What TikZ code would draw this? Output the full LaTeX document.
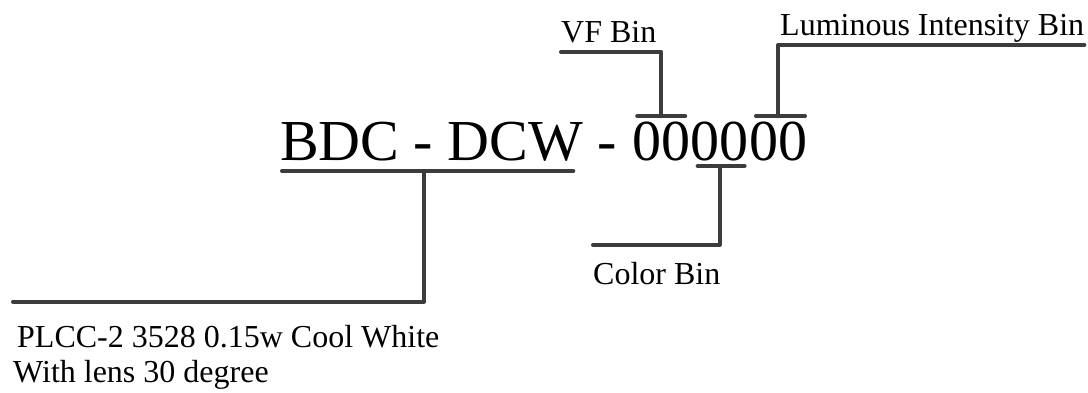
\documentclass[tikz,border=0pt]{standalone}
\usepackage{fontspec}
\setmainfont{Liberation Serif}
\usepackage{xcolor}
\usetikzlibrary{positioning,calc}
\definecolor{leadgray}{HTML}{3C3C3C}

\begin{document}
\begin{tikzpicture}[x=1pt,y=1pt,
    code/.style={font=\fontsize{58}{58}\selectfont,inner sep=0,anchor=base west},
    tag/.style={font=\fontsize{32}{32}\selectfont,inner sep=0,anchor=base west},
    lead/.style={draw=leadgray,line width=4pt,line cap=round,line join=round}]
      \useasboundingbox (0,0) rectangle (1088,392);
      % part number
      \node[code] (dcw) at (280,232) {BDC - DCW};
      \node[code] (sep) at ([xshift=14.5]dcw.base east) {-};
      \node[code] (d12) at ([xshift=14.5]sep.base east) {00};
      \node[code] (d34) at (d12.base east) {00};
      \node[code] (d56) at (d34.base east) {00};
      % labels
      \node[tag] (vf) at (561,349) {VF Bin};
      \node[tag] (lum) at (780,356) {Luminous Intensity Bin};
      \node[tag] (col) at (593,108) {Color Bin};
      \node[tag] (pkg) at (17,45) {PLCC-2 3528 0.15w Cool White};
      \node[tag] (lens) at ([yshift=-35,xshift=-4]pkg.base west) {With lens 30 degree};
      % bars
      \coordinate (vfbar) at ([yshift=5]d12.north);
      \coordinate (colbar) at ([yshift=-6]d34.base);
      \coordinate (lumbar) at ([yshift=5]d56.north);
      \coordinate (dcwbar) at ([xshift=144,yshift=-11]dcw.base west);
      \draw[lead] ([xshift=-24]vfbar) -- ([xshift=24]vfbar);
      \draw[lead] ([xshift=-22]colbar) -- ([xshift=25]colbar);
      \draw[lead] ([xshift=-22]lumbar) -- ([xshift=27]lumbar);
      \draw[lead] ([xshift=2,yshift=-11]dcw.base west) -- ([xshift=-10,yshift=-11]dcw.base east);
      % leaders
      \draw[lead] (vfbar) |- ([yshift=-9]vf.base west);
      \draw[lead] (lumbar) |- ([yshift=-9]lum.base east);
      \draw[lead] (colbar) |- ([yshift=17]col.north west);
      \draw[lead] (dcwbar) |- ([xshift=-4,yshift=23]pkg.north west);
\end{tikzpicture}
\end{document}
